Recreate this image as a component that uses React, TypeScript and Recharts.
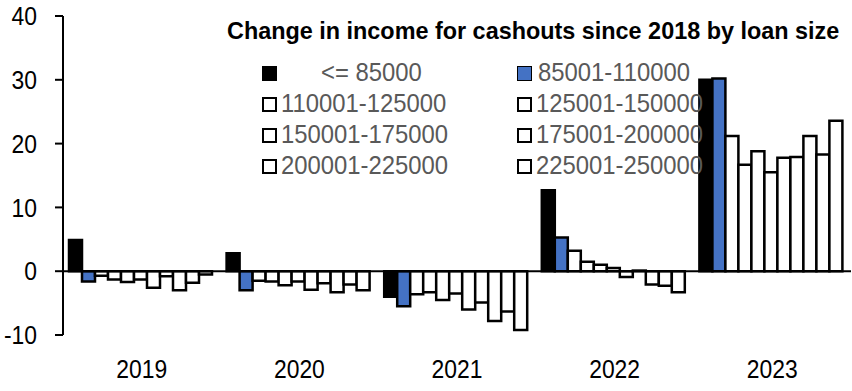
import React from 'react'
import { BarChart, Bar, XAxis, YAxis, ReferenceLine } from 'recharts'

// categories
const years = ['2019', '2020', '2021', '2022', '2023']

// loan size buckets (only the first eight have a legend entry in the original)
const seriesNames = [
  '<= 85000',
  '85001-110000',
  '110001-125000',
  '125001-150000',
  '150001-175000',
  '175001-200000',
  '200001-225000',
  '225001-250000',
  '250001-275000',
  '275001-300000',
  '> 300000'
]

// change in income (%), one array per bucket, in year order
const le85 = [4.9, 2.8, -4.0, 12.7, 30.0]
const b85to110 = [-1.6, -3.0, -5.5, 5.3, 30.2]
const b110to125 = [-0.7, -1.5, -3.6, 3.2, 21.2]
const b125to150 = [-1.3, -1.6, -3.3, 1.5, 16.7]
const b150to175 = [-1.7, -2.2, -4.5, 1.0, 18.8]
const b175to200 = [-1.3, -1.6, -3.5, 0.5, 15.5]
const b200to225 = [-2.6, -2.9, -6.0, -0.9, 17.8]
const b225to250 = [-0.8, -1.9, -4.9, 0.1, 17.9]
const b250to275 = [-3.0, -3.3, -7.8, -2.1, 21.2]
const b275to300 = [-1.8, -2.1, -6.3, -2.3, 18.3]
const gt300 = [-0.5, -3.0, -9.2, -3.3, 23.6]

const seriesValues = [
  le85, b85to110, b110to125, b125to150, b150to175, b175to200,
  b200to225, b225to250, b250to275, b275to300, gt300
]

const yTicks = [-10, 0, 10, 20, 30, 40]

const fills = ['#000000', '#4472C4', '#ffffff', '#ffffff', '#ffffff', '#ffffff', '#ffffff', '#ffffff', '#ffffff', '#ffffff', '#ffffff']

const chartData = years.map((year, i) => {
  const row: any = { year }
  seriesValues.forEach((vals, s) => {
    row['s' + s] = vals[i]
  })
  return row
})

const FONT = '"Liberation Sans", Arial, sans-serif'
const SQUEEZE = 0.88

// the source uses a condensed face, so squeeze the regular one
function XTick(props: any) {
  const { x, y, payload } = props
  return (
    <g transform={`translate(${x},${y})`}>
      <text transform={`scale(${SQUEEZE},1)`} textAnchor="middle" dy="0.71em" fontSize={26} fill="#000" fontFamily={FONT}>
        {payload.value}
      </text>
    </g>
  )
}

function YTick(props: any) {
  const { x, y, payload } = props
  return (
    <g transform={`translate(${x},${y})`}>
      <text transform={`scale(${SQUEEZE},1)`} textAnchor="end" dy="0.355em" fontSize={26} fill="#000" fontFamily={FONT}>
        {payload.value}
      </text>
    </g>
  )
}

function LegendBox({ fill }: { fill: string }) {
  const isWhite = fill === '#ffffff'
  return (
    <span
      style={{
        display: 'inline-block',
        flexShrink: 0,
        boxSizing: 'border-box',
        width: 15,
        height: 15,
        background: fill,
        border: isWhite ? '2px solid #000' : fill === '#4472C4' ? '1px solid #000' : 'none',
        marginRight: 3,
        position: 'relative',
        top: 1
      }}
    />
  )
}

export default function App() {
  const legendItems = seriesNames.slice(0, 8).map((name, i) => ({ name, fill: fills[i] }))
  const rows = [0, 1, 2, 3].map(r => legendItems.slice(r * 2, r * 2 + 2))

  return (
    <div style={{ position: 'absolute', left: 0, top: 0, width: 852, height: 391, background: '#fff', fontFamily: FONT }}>
      <BarChart
        width={852}
        height={391}
        data={chartData}
        margin={{ top: 16, right: 1, bottom: 0, left: 0 }}
        barCategoryGap={6}
        barGap={0}
      >
        <XAxis
          dataKey="year"
          axisLine={false}
          tickLine={false}
          height={56}
          tickMargin={19}
          tick={<XTick />}
        />
        <YAxis
          domain={[-10, 40]}
          ticks={yTicks}
          width={63}
          tickSize={8}
          tickMargin={18}
          axisLine={{ stroke: '#000', strokeWidth: 2 }}
          tickLine={{ stroke: '#000', strokeWidth: 2 }}
          tick={<YTick />}
        />
        {seriesValues.map((_, s) => (
          <Bar
            key={s}
            dataKey={'s' + s}
            name={seriesNames[s]}
            fill={fills[s]}
            stroke="#000"
            strokeWidth={2.5}
            isAnimationActive={false}
          />
        ))}
        <ReferenceLine y={0} stroke="#000" strokeWidth={2} />
      </BarChart>

      <div
        style={{
          position: 'absolute',
          left: 227,
          top: 18,
          fontSize: 23.4,
          fontWeight: 'bold',
          color: '#000',
          whiteSpace: 'nowrap'
        }}
      >
        Change in income for cashouts since 2018 by loan size
      </div>

      <div style={{ position: 'absolute', left: 262, top: 57, width: 460 }}>
        {rows.map((row, r) => (
          <div key={r} style={{ display: 'flex', height: 31, alignItems: 'center', fontSize: 26.5, color: '#595959', whiteSpace: 'nowrap' }}>
            {row.map((item, c) => (
              <div key={c} style={{ width: c === 0 ? 255 : 205, flexShrink: 0, display: 'flex', alignItems: 'center' }}>
                <LegendBox fill={item.fill} />
                <span
                  style={{
                    display: 'inline-block',
                    transform: 'scaleX(0.9)',
                    transformOrigin: 'left center',
                    marginLeft: r === 0 && c === 0 ? 41 : r === 0 ? 3 : 1
                  }}
                >
                  {item.name}
                </span>
              </div>
            ))}
          </div>
        ))}
      </div>
    </div>
  )
}
